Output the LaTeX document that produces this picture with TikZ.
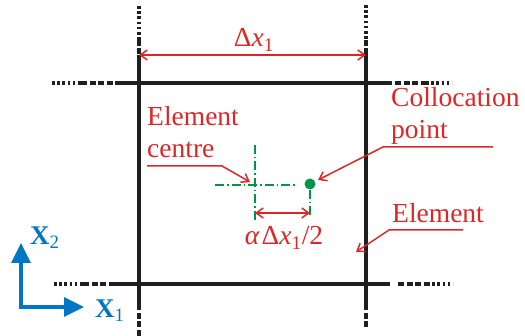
\documentclass[tikz,border=0pt]{standalone}
\usepackage{fontspec}
\setmainfont{Liberation Serif}
\usetikzlibrary{
    arrows.meta,   % For arrow tips
    calc,          % For coordinate calculations
    positioning,   % For relative placement
}
\definecolor{lblred}{RGB}{222,38,38}
\definecolor{centregreen}{RGB}{0,150,70}
\definecolor{axisblue}{RGB}{0,118,196}

\begin{document}
\begin{tikzpicture}[
    x=1pt, y=-1pt, % pixel-like units, y downwards
    >={Straight Barb[length=7pt, width=10pt]}, % Default arrow tip
    gridline/.style={line width=3.2pt, black!88}, % Element edges
    griddots/.style={gridline, dash pattern=on 2.6pt off 2.6pt}, % Far extensions
    griddash/.style={gridline, dash pattern=on 6pt off 2.5pt}, % Near extensions
    dimline/.style={<->, lblred, line width=1.5pt}, % Dimension arrows
    callout/.style={->, lblred, line width=1.5pt}, % Pointer lines
    lbl/.style={lblred, font=\fontsize{27.5}{32}\selectfont, inner sep=0pt}, % Red labels
    centreline/.style={centregreen, line width=1.4pt, dash pattern=on 9pt off 3pt on 1.5pt off 3pt},
    axis/.style={-{Triangle[length=20pt, width=19pt]}, line width=3.4pt, axisblue},
    axislbl/.style={axisblue, font=\fontsize{27}{30}\selectfont, inner sep=0pt}
]
    \useasboundingbox (0,0) rectangle (525,336);

    % Corners of the element
    \coordinate (tl) at (139,83);
    \coordinate (tr) at (366,83);
    \coordinate (br) at (366,284);
    \coordinate (bl) at (139,284);

    % Vertical grid lines
    \draw[griddots] (139,6) -- (139,40);
    \draw[griddash] (139,40) -- (139,55);
    \draw[gridline] (139,55) -- (139,310);
    \draw[griddash] (139,313) -- (139,336);
    \draw[griddots] (366,5) -- (366,40);
    \draw[griddash] (366,40) -- (366,53);
    \draw[gridline] (366,53) -- (366,310);
    \draw[griddash] (366,313) -- (366,330);

    % Horizontal grid lines
    \draw[griddots] (52,83) -- (81,83);
    \draw[griddash] (81,83) -- (117,83);
    \draw[gridline] (117,83) -- (392,83);
    \draw[griddash] (395,83) -- (426,83);
    \draw[griddots] (426,83) -- (452,83);
    \draw[griddots] (54,284) -- (83,284);
    \draw[griddash] (83,284) -- (111,284);
    \draw[gridline] (111,284) -- (390,284);
    \draw[griddash] (398,284) -- (427,284);
    \draw[griddots] (427,284) -- (453,284);

    % Element width
    \coordinate (dxL) at (139,55);
    \coordinate (dxR) at (366,55);
    \draw[dimline] (dxL) -- (dxR);
    \node[lbl, anchor=base] (dxlbl) at (254,47) {Δ\textit{x}\textsubscript{1}};

    % Element centre and collocation point
    \coordinate (centre) at (255,185);
    \draw[centreline] (215,185) -- (297,185);
    \draw[centreline] (centre |- 0,145) -- (centre |- 0,221);
    \node[circle, fill=centregreen, inner sep=0pt, minimum size=11pt] (colloc) at (310,184) {};
    \draw[centreline] (colloc.south) -- ++(0,28);
    \coordinate (offL) at (255,213);
    \coordinate (offR) at (310,213);
    \draw[dimline] (offL) -- (offR);
    \node[lbl, anchor=base] (offlbl) at (284,245) {\textit{α}\kern2ptΔ\textit{x}\textsubscript{1}/2};

    % Element centre label
    \node[lbl, align=left, anchor=base west] (centrelbl) at (147,158) {Element\\centre};
    \coordinate (centreul) at (147,166);
    \coordinate (centreulR) at (222,166);
    \draw[callout] (centreul) -- (centreulR) -- ($(centre)+(-5,-3)$);

    % Collocation point label
    \node[lbl, align=left, anchor=base west] (colloclbl) at (391,139) {Collocation\\point};
    \coordinate (collocul) at (493,147);
    \coordinate (colloculL) at (383,147);
    \draw[callout] (collocul) -- (colloculL) -- ($(colloc)+(8,-4)$);

    % Element label
    \node[lbl, anchor=base west] (elemlbl) at (392,223) {Element};
    \coordinate (elemul) at (463,230);
    \coordinate (elemulL) at (389,230);
    \coordinate (elemedge) at (356,252);
    \draw[callout] (elemul) -- (elemulL) -- (elemedge);

    % Global axes
    \coordinate (origin) at (21,307);
    \coordinate (x1tip) at (84,307);
    \coordinate (x2tip) at (21,243);
    \draw[axis] ($(origin)+(0,1.7)$) -- (x2tip);
    \draw[axis] ($(origin)+(-1.7,0)$) -- (x1tip);
    \node[axislbl, anchor=base west] (x2lbl) at (30,245) {\textbf{X}\textsubscript{2}};
    \node[axislbl, anchor=base west] (x1lbl) at (95,318) {\textbf{X}\textsubscript{1}};

\end{tikzpicture}
\end{document}
